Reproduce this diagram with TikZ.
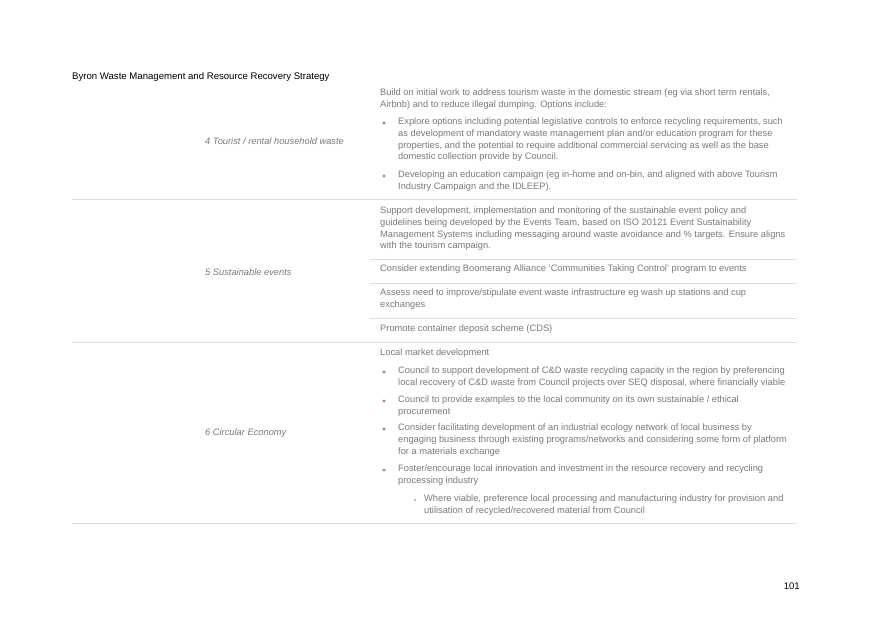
\documentclass[tikz,border=0pt]{standalone}
\usepackage{fontspec}
\setmainfont{Liberation Sans}
\usetikzlibrary{positioning}
\definecolor{txtgray}{HTML}{7A7A7A}
\definecolor{rulegray}{HTML}{DDDDDD}
\definecolor{dotorange}{HTML}{E8731A}
\tikzset{
  para/.style={anchor=north west, inner sep=0pt, align=left, text=txtgray,
    font=\fontsize{9.3}{11.6}\selectfont},
  topic/.style={anchor=west, inner sep=0pt, text=txtgray,
    font=\fontsize{9.3}{11.6}\selectfont\itshape},
  dot/.style={circle, fill=dotorange, inner sep=0pt, minimum size=3.4pt},
  subdot/.style={circle, fill=txtgray, inner sep=0pt, minimum size=1.8pt},
  rule/.style={draw=rulegray, line width=0.6pt}
}
\begin{document}
\begin{tikzpicture}[x=1pt,y=-1pt]
		\useasboundingbox[fill=white] (0,0) rectangle (875,619);
		\node[anchor=west, inner sep=0pt, font=\fontsize{9.6}{10}\selectfont] (title) at (72,77) {Byron Waste Management and Resource Recovery Strategy};
		% row 4
		\node[topic] (t4) at (205,141) {4 Tourist / rental household waste};
		\node[para] (p41) at (380,89) {Build on initial work to address tourism waste in the domestic stream (eg via short term rentals,\\Airbnb) and to reduce illegal dumping. Options include:};
		\node[dot] (d41) at (384,123) {};
		\node[para] (p42) at (398,118) {Explore options including potential legislative controls to enforce recycling requirements, such\\as development of mandatory waste management plan and/or education program for these\\properties, and the potential to require additional commercial servicing as well as the base\\domestic collection provide by Council.};
		\node[dot] (d42) at (384,176) {};
		\node[para] (p43) at (398,171) {Developing an education campaign (eg in-home and on-bin, and aligned with above Tourism\\Industry Campaign and the IDLEEP).};
		\draw[rule] (72,199) -- (797,199);
		% row 5
		\node[topic] (t5) at (205,272) {5 Sustainable events};
		\node[para] (p51) at (380,207) {Support development, implementation and monitoring of the sustainable event policy and\\guidelines being developed by the Events Team, based on ISO 20121 Event Sustainability\\Management Systems including messaging around waste avoidance and \% targets. Ensure aligns\\with the tourism campaign.};
		\draw[rule] (370,259) -- (797,259);
		\node[para] (p52) at (380,265) {Consider extending Boomerang Alliance `Communities Taking Control' program to events};
		\draw[rule] (370,283) -- (797,283);
		\node[para] (p53) at (380,289) {Assess need to improve/stipulate event waste infrastructure eg wash up stations and cup\\exchanges};
		\draw[rule] (370,318) -- (797,318);
		\node[para] (p54) at (380,325) {Promote container deposit scheme (CDS)};
		\draw[rule] (72,342) -- (797,342);
		% row 6
		\node[topic] (t6) at (205,433) {6 Circular Economy};
		\node[para] (p61) at (380,349) {Local market development};
		\foreach \y/\nm in {372/a, 401/b, 429/c, 470/d}
			\node[dot] (d6\nm) at (384,\y) {};
		\node[para] (p6a) at (398,367) {Council to support development of C\&D waste recycling capacity in the region by preferencing\\local recovery of C\&D waste from Council projects over SEQ disposal, where financially viable};
		\node[para] (p6b) at (398,396) {Council to provide examples to the local community on its own sustainable / ethical\\procurement};
		\node[para] (p6c) at (398,424) {Consider facilitating development of an industrial ecology network of local business by\\engaging business through existing programs/networks and considering some form of platform\\for a materials exchange};
		\node[para] (p6d) at (398,465) {Foster/encourage local innovation and investment in the resource recovery and recycling\\processing industry};
		\node[subdot] (s6) at (415,500) {};
		\node[para] (p6e) at (424,495) {Where viable, preference local processing and manufacturing industry for provision and\\utilisation of recycled/recovered material from Council};
		\draw[rule] (72,523) -- (797,523);
		\node[anchor=east, inner sep=0pt, font=\fontsize{9.6}{10}\selectfont] (pg) at (800,586) {101};
\end{tikzpicture}
\end{document}
